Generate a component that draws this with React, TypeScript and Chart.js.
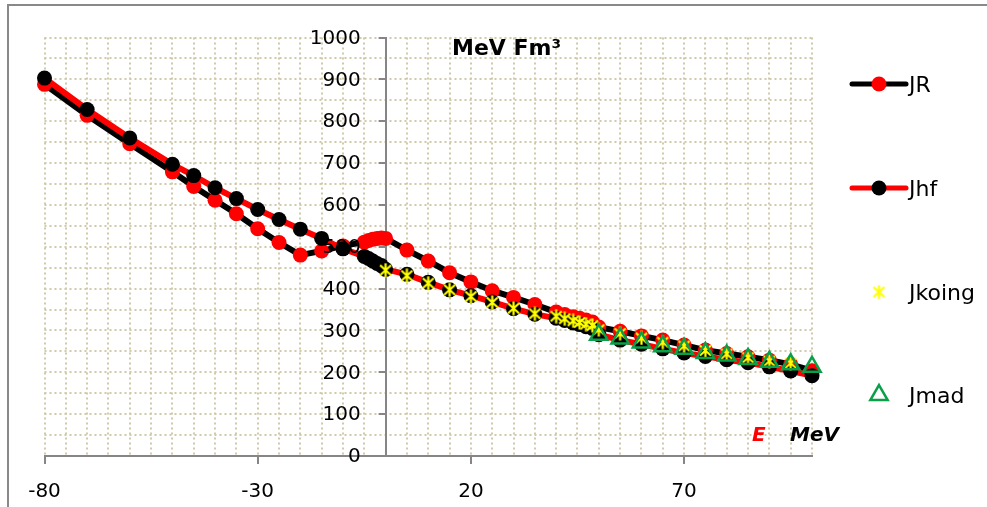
import React, { useEffect, useRef } from 'react';
import { Chart, registerables } from 'chart.js';

Chart.register(...registerables);

// Energy grid (MeV) shared by JR and Jhf
const energies = [-80, -70, -60, -50, -45, -40, -35, -30, -25, -20, -15, -10, -5, -4, -3, -2, -1, 0, 5, 10, 15, 20, 25, 30, 35, 40, 42, 44, 45.5, 47, 48.5, 50, 55, 60, 65, 70, 75, 80, 85, 90, 95, 100];
const jR = [888, 814, 746, 679, 644, 611, 579, 543, 510, 480, 490, 502, 511, 515, 518, 520, 521, 520, 492, 466, 438, 416, 395, 379, 362, 344, 338, 333, 329, 325, 320, 308, 298, 287, 277, 265, 253, 245, 237, 229, 219, 204];
const jHf = [903, 828, 760, 697, 670, 641, 615, 589, 565, 542, 520, 495, 477, 472, 466, 460, 455, 446, 434, 415, 397, 383, 368, 352, 339, 329, 324, 318, 314, 309, 305, 290, 277, 267, 256, 246, 238, 230, 223, 213, 203, 192];
const koingE = [0, 5, 10, 15, 20, 25, 30, 35, 40, 42, 44, 45.5, 47, 48.5, 50, 55, 60, 65, 70, 75, 80, 85, 90, 95];
const jKoing = [444, 431, 413, 397, 381, 367, 353, 340, 334, 328, 323, 319, 315, 312, 302, 293, 282, 272, 263, 252, 244, 235, 227, 222];
const madE = [50, 55, 60, 65, 70, 75, 80, 85, 90, 95, 100];
const jMad = [290, 281, 271, 262, 256, 246, 240, 232, 225, 219, 213];

const xMin = -80;
const xMax = 100;
const xLabelStep = 50;
const xGridStep = 5;
const yMin = 0;
const yMax = 1000;
const yLabelStep = 100;
const yGridStep = 50;

const seriesNames = ['JR', 'Jhf', 'Jkoing', 'Jmad'];

const FONT = '"DejaVu Sans", "Liberation Sans", Arial, sans-serif';
const GRID = '#d0c9aa';
const AXIS = '#868686';
const GREEN = '#0aa04a';

function makeStar(): HTMLCanvasElement {
  const c = document.createElement('canvas');
  c.width = 15;
  c.height = 15;
  const g = c.getContext('2d')!;
  g.strokeStyle = '#ffff00';
  g.lineWidth = 2.2;
  g.beginPath();
  g.moveTo(7.5, 0.5);
  g.lineTo(7.5, 14.5);
  g.moveTo(2, 2.5);
  g.lineTo(13, 12.5);
  g.moveTo(13, 2.5);
  g.lineTo(2, 12.5);
  g.stroke();
  return c;
}

function makeDecor(star: HTMLCanvasElement) {
  return {
    id: 'decor',
    afterDraw(chart: any) {
      const ctx: CanvasRenderingContext2D = chart.ctx;
      const xs = chart.scales.x;
      const ys = chart.scales.y;
      ctx.save();
      // outer frame (top + left visible)
      ctx.strokeStyle = '#898989';
      ctx.lineWidth = 2;
      ctx.beginPath();
      ctx.moveTo(8, 507);
      ctx.lineTo(8, 5);
      ctx.lineTo(987, 5);
      ctx.stroke();

      // y tick marks and labels, left of the axis that crosses at x = 0
      const ax = xs.getPixelForValue(0);
      ctx.strokeStyle = AXIS;
      ctx.lineWidth = 2;
      ctx.beginPath();
      for (let v = yMin; v <= yMax; v += yLabelStep) {
        const py = Math.round(ys.getPixelForValue(v));
        ctx.moveTo(ax - 7, py);
        ctx.lineTo(ax, py);
      }
      ctx.stroke();
      ctx.fillStyle = '#000';
      ctx.font = `20px ${FONT}`;
      ctx.textAlign = 'right';
      ctx.textBaseline = 'middle';
      for (let v = yMin; v <= yMax; v += yLabelStep) {
        ctx.fillText(String(v), ax - 25, ys.getPixelForValue(v) + 1);
      }

      // titles
      ctx.textAlign = 'left';
      ctx.textBaseline = 'alphabetic';
      ctx.font = `bold 22px ${FONT}`;
      ctx.fillText('MeV Fm³', 452, 55);
      ctx.font = `italic bold 20px ${FONT}`;
      ctx.fillStyle = '#ff0000';
      ctx.fillText('E', 752, 441);
      ctx.fillStyle = '#000';
      ctx.fillText('MeV', 790, 441);

      // legend
      const lx0 = 852, lx1 = 906, mx = 879, tx = 909;
      const rows = [84, 188, 292, 395];
      ctx.lineCap = 'round';
      ctx.strokeStyle = '#000';
      ctx.lineWidth = 5;
      ctx.beginPath(); ctx.moveTo(lx0, rows[0]); ctx.lineTo(lx1, rows[0]); ctx.stroke();
      ctx.fillStyle = '#ff0000';
      ctx.beginPath(); ctx.arc(mx, rows[0], 7.5, 0, Math.PI * 2); ctx.fill();
      ctx.strokeStyle = '#ff0000';
      ctx.beginPath(); ctx.moveTo(lx0, rows[1]); ctx.lineTo(lx1, rows[1]); ctx.stroke();
      ctx.fillStyle = '#000';
      ctx.beginPath(); ctx.arc(mx, rows[1], 7.5, 0, Math.PI * 2); ctx.fill();
      ctx.drawImage(star, mx - 7.5, rows[2] - 7.5);
      const r = 10;
      ctx.strokeStyle = GREEN;
      ctx.lineWidth = 2.5;
      ctx.lineCap = 'butt';
      ctx.lineJoin = 'miter';
      ctx.beginPath();
      ctx.moveTo(mx, rows[3] - r);
      ctx.lineTo(mx + 0.866 * r, rows[3] + 0.5 * r);
      ctx.lineTo(mx - 0.866 * r, rows[3] + 0.5 * r);
      ctx.closePath();
      ctx.stroke();

      ctx.fillStyle = '#000';
      ctx.font = `22px ${FONT}`;
      seriesNames.forEach((n, i) => ctx.fillText(n, tx, rows[i] + 8));
      ctx.restore();
    },
  };
}

export default function App() {
  const ref = useRef<HTMLCanvasElement>(null);

  useEffect(() => {
    const canvas = ref.current!;
    const star = makeStar();
    const chart = new Chart(canvas, {
      type: 'scatter',
      data: {
        datasets: [
          {
            label: seriesNames[0],
            data: energies.map((x, i) => ({ x, y: jR[i] })),
            showLine: true,
            borderColor: '#000000',
            borderWidth: 6,
            pointRadius: 7.5,
            pointBackgroundColor: '#ff0000',
            pointBorderColor: '#ff0000',
            pointBorderWidth: 0,
            tension: 0,
            order: 4,
            clip: false,
          } as any,
          {
            label: seriesNames[1],
            data: energies.map((x, i) => ({ x, y: jHf[i] })),
            showLine: true,
            borderColor: '#ff0000',
            borderWidth: 6,
            pointRadius: 7.5,
            pointBackgroundColor: '#000000',
            pointBorderColor: '#000000',
            pointBorderWidth: 0,
            tension: 0,
            order: 3,
            clip: false,
          },
          {
            label: seriesNames[2],
            data: koingE.map((x, i) => ({ x, y: jKoing[i] })),
            showLine: false,
            pointStyle: star,
            pointRadius: 7,
            order: 2,
            clip: false,
          },
          {
            label: seriesNames[3],
            data: madE.map((x, i) => ({ x, y: jMad[i] })),
            showLine: false,
            pointStyle: 'triangle',
            pointRadius: 10,
            pointBackgroundColor: 'rgba(0,0,0,0)',
            pointBorderColor: GREEN,
            pointBorderWidth: 2.5,
            order: 1,
            clip: false,
          },
        ],
      },
      options: {
        animation: false,
        responsive: false,
        devicePixelRatio: 1,
        layout: { padding: { left: 44.5, right: 175, top: 37.5, bottom: 0 } },
        plugins: { legend: { display: false }, tooltip: { enabled: false }, title: { display: false } },
        scales: {
          x: {
            type: 'linear',
            position: 'bottom',
            min: xMin,
            max: xMax,
            afterFit: (s: any) => { s.height = 51; },
            afterBuildTicks: (s: any) => {
              const t = [];
              for (let v = xMin; v <= xMax; v += xGridStep) t.push({ value: v });
              s.ticks = t;
            },
            ticks: {
              autoSkip: false,
              maxRotation: 0,
              padding: 16,
              color: '#000',
              font: { family: FONT, size: 20 },
              callback: (v: any) => (((Number(v) - xMin) % xLabelStep === 0) ? String(v) : ''),
            },
            grid: {
              color: GRID,
              lineWidth: 2,
              tickLength: 8,
              tickWidth: 2,
              tickColor: (c: any) => (c.tick && (c.tick.value - xMin) % xLabelStep === 0 ? AXIS : 'rgba(0,0,0,0)'),
            },
            border: { display: true, color: AXIS, width: 2, dash: [2, 3] },
          },
          y: {
            type: 'linear',
            position: { x: 0 } as any,
            min: yMin,
            max: yMax,
            afterBuildTicks: (s: any) => {
              const t = [];
              for (let v = yMin; v <= yMax; v += yGridStep) t.push({ value: v });
              s.ticks = t;
            },
            ticks: {
              display: false,
              autoSkip: false,
            },
            grid: {
              color: GRID,
              lineWidth: 2,
              drawTicks: false,
            },
            border: { display: true, color: AXIS, width: 2, dash: [2, 3] },
          },
        },
      } as any,
      plugins: [makeDecor(star)],
    });
    return () => chart.destroy();
  }, []);

  return (
    <div style={{ position: 'absolute', left: 0, top: 0, width: 987, height: 507, background: '#fff' }}>
      <canvas ref={ref} width={987} height={507} style={{ display: 'block' }} />
    </div>
  );
}
